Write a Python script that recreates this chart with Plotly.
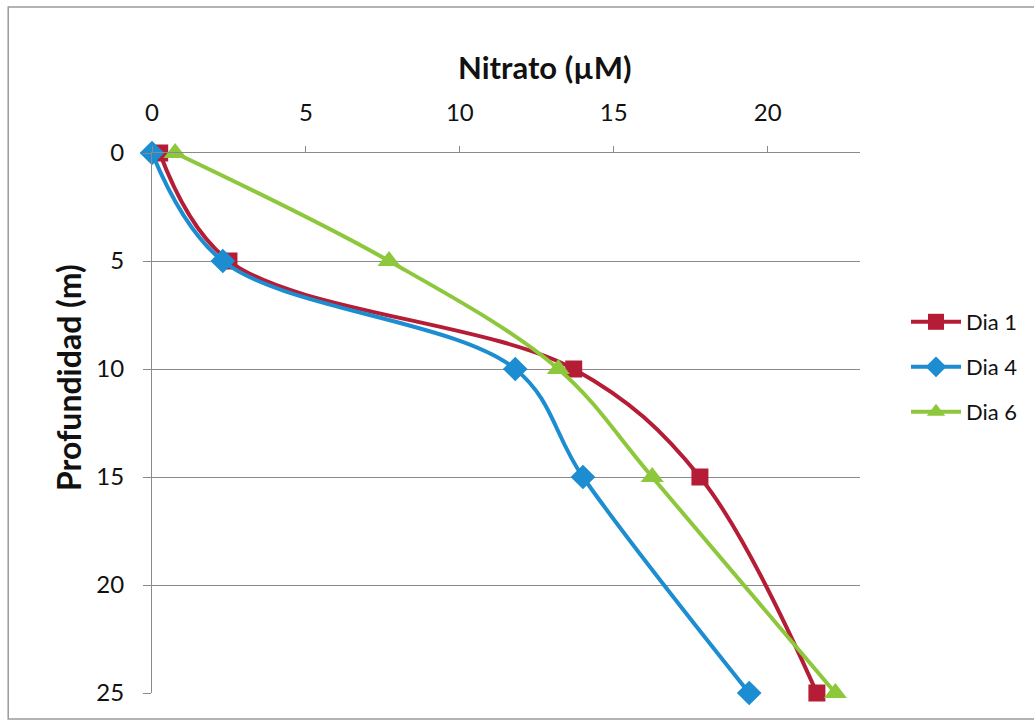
import plotly.graph_objects as go

# Nitrate profiles (µM) by depth (m)
profundidad = [0, 5, 10, 15, 25]
dia_1 = [0.25, 2.5, 13.7, 17.8, 21.6]
dia_4 = [0.0, 2.3, 11.8, 14.0, 19.4]
dia_6 = [0.75, 7.7, 13.2, 16.25, 22.2]

series = [
    ("Dia 1", dia_1, "#B51C35", "square", 17, "legend"),
    ("Dia 4", dia_4, "#1C8DD0", "diamond", 19, "legend2"),
    ("Dia 6", dia_6, "#8DC83C", "triangle-up", 20, "legend3"),
]

FONT = "Lato"
W, H = 1034, 721
L, R, T, B = 152, 173, 153, 28
pw, ph = W - L - R, H - T - B


def px_x(x):
    return (x - L) / pw


def px_y(y):
    return (H - B - y) / ph


fig = go.Figure()
for name, vals, color, sym, size, leg in series:
    fig.add_trace(go.Scatter(
        x=vals, y=profundidad, name=name, mode="lines+markers",
        line=dict(color=color, width=4, shape="spline", smoothing=1),
        marker=dict(symbol=sym, size=size, color=color),
        cliponaxis=False, legend=leg, showlegend=True,
    ))

legend_common = dict(
    font=dict(family=FONT, size=22, color="#111111"),
    bgcolor="rgba(0,0,0,0)", xanchor="left", yanchor="middle",
    x=px_x(906), itemwidth=50, visible=True,
)

fig.update_layout(
    width=W, height=H,
    margin=dict(l=L, r=R, t=T, b=B),
    paper_bgcolor="white", plot_bgcolor="white",
    showlegend=True,
    font=dict(family=FONT, size=24, color="#111111"),
    legend=dict(y=px_y(322), **legend_common),
    legend2=dict(y=px_y(367), **legend_common),
    legend3=dict(y=px_y(412), **legend_common),
    xaxis=dict(
        side="top", range=[0, 23], tickvals=[0, 5, 10, 15, 20],
        showgrid=False, zeroline=False, showline=True,
        linecolor="#8a8a8a", linewidth=1.2,
        ticks="outside", ticklen=6, tickcolor="#8a8a8a",
        ticklabelstandoff=15,
        tickfont=dict(family=FONT, size=24, color="#111111"),
    ),
    yaxis=dict(
        range=[25, 0], tickvals=[0, 5, 10, 15, 20, 25],
        showgrid=True, gridcolor="#8a8a8a", gridwidth=1.2,
        zeroline=False, showline=True, linecolor="#8a8a8a", linewidth=1.2,
        ticks="outside", ticklen=8, tickcolor="#8a8a8a",
        ticklabelstandoff=14,
        tickfont=dict(family=FONT, size=24, color="#111111"),
    ),
    annotations=[
        dict(text="<b>Nitrato (µM)</b>", xref="paper", yref="paper",
             x=px_x(545), y=px_y(67), xanchor="center", yanchor="middle",
             showarrow=False,
             font=dict(family=FONT, size=31, color="#111111")),
        dict(text="<b>Profundidad (m)</b>", xref="paper", yref="paper",
             x=px_x(68), y=px_y(378), xanchor="center", yanchor="middle",
             showarrow=False, textangle=-90,
             font=dict(family=FONT, size=32, color="#111111")),
    ],
    shapes=[
        dict(type="rect", xref="paper", yref="paper",
             x0=px_x(8), x1=px_x(1070), y0=px_y(719), y1=px_y(7),
             line=dict(color="#9a9a9a", width=1.5), layer="below"),
    ],
)

fig.write_html("out.html")
